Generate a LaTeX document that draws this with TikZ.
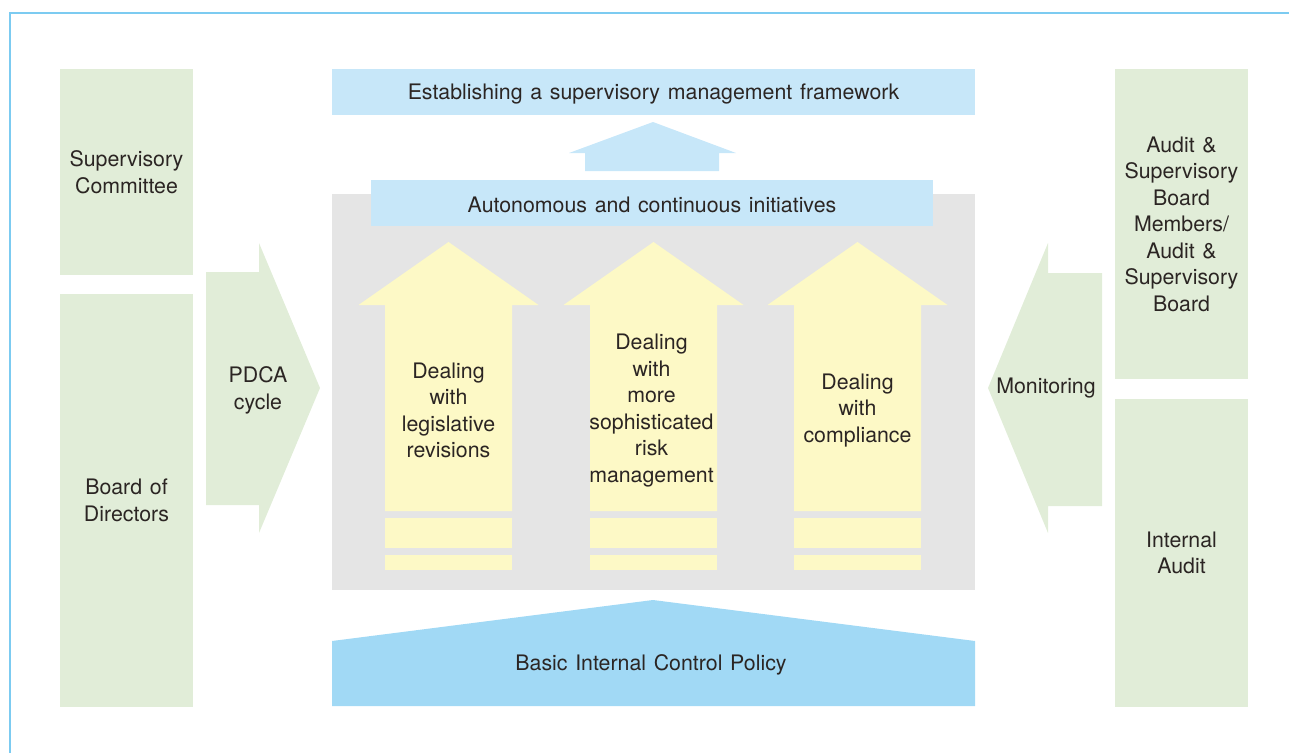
\documentclass[tikz,border=0pt]{standalone}
\usepackage{fontspec}
\setmainfont[WordSpace=1.3]{TeX Gyre Heros}
\usetikzlibrary{positioning}

\definecolor{paleGreen}{HTML}{E1EDD8}
\definecolor{paleBlue}{HTML}{C7E7F9}
\definecolor{midBlue}{HTML}{A1D9F5}
\definecolor{paleYellow}{HTML}{FDF9C6}
\definecolor{bgGray}{HTML}{E5E5E5}
\definecolor{frameBlue}{HTML}{7CCBF1}
\definecolor{inkGray}{HTML}{2B2523}

\tikzset{
  label/.style={font=\fontsize{16}{19.9}\selectfont, text=inkGray, align=center, inner sep=0pt},
  sidebox/.style={label, fill=paleGreen, minimum width=133*0.75pt},
  banner/.style={label, fill=paleBlue, minimum height=46*0.75pt},
}

\begin{document}
\begin{tikzpicture}[x=0.75pt, y=-0.75pt]
    \useasboundingbox (0,0) rectangle (1289,753);
    \draw[frameBlue, line width=1.5pt] (1289,13) -- (9.5,13) -- (9.5,753);

    % left and right columns
    \node[sidebox, minimum height=206*0.75pt] (supcom) at (126.5,172) {Supervisory\\Committee};
    \node[sidebox, minimum height=413*0.75pt] (board) at (126.5,500.5) {Board of\\Directors};
    \node[sidebox, minimum height=310*0.75pt] (asb) at (1181.5,224) {Audit \&\\Supervisory\\Board\\Members/\\Audit \&\\Supervisory\\Board};
    \node[sidebox, minimum height=308*0.75pt] (intaudit) at (1181.5,553) {Internal\\Audit};

    % side arrows
    \fill[paleGreen] (206,272) -- (259,272) -- (259,243) -- (320,388) -- (259,533) -- (259,505) -- (206,505) -- cycle;
    \node[label] (pdca) at (258,390.5) {PDCA\\cycle};
    \fill[paleGreen] (1102,273) -- (1048,273) -- (1048,243) -- (988,388) -- (1048,533) -- (1048,506) -- (1102,506) -- cycle;
    \node[label] (monitor) at (1046,388) {Monitoring};

    % centre block
    \fill[bgGray] (332,194) rectangle (975,590);
    \node[banner, minimum width=643*0.75pt] (goal) at (653.5,92) {};
    \node[label] (goaltext) at (653.5,94) {Establishing a supervisory management framework};
    \fill[paleBlue] (585,171) -- (585,153) -- (569,153) -- (653,122) -- (736,153) -- (719,153) -- (719,171) -- cycle;
    \node[banner, minimum width=562*0.75pt] (auto) at (652,203) {};
    \node[label] (autotext) at (652,204.5) {Autonomous and continuous initiatives};

    \foreach \cx in {448.5, 653.5, 857.5} {
        \fill[paleYellow] (\cx-63.5,511) -- (\cx-63.5,305) -- (\cx-90,305) -- (\cx,242)
            -- (\cx+90,305) -- (\cx+63.5,305) -- (\cx+63.5,511) -- cycle;
        \fill[paleYellow] (\cx-63.5,518) rectangle (\cx+63.5,548);
        \fill[paleYellow] (\cx-63.5,555) rectangle (\cx+63.5,570);
    }
    \node[label] (legal) at (448.5,410.5) {Dealing\\with\\legislative\\revisions};
    \node[label] (risk) at (651.5,410.5) {Dealing\\with\\more\\sophisticated\\risk\\management};
    \node[label] (comp) at (857.5,410.5) {Dealing\\with\\compliance};

    % foundation
    \fill[midBlue] (332,706) -- (332,641) -- (653,600) -- (975,641) -- (975,706) -- cycle;
    \node[label] (policy) at (651,665) {Basic Internal Control Policy};
\end{tikzpicture}
\end{document}
